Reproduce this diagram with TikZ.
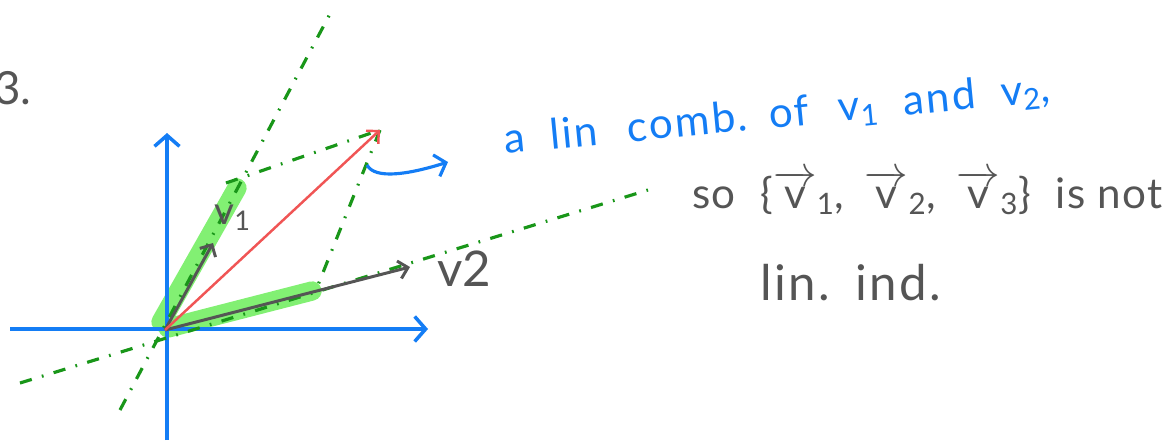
\documentclass[tikz,border=0pt]{standalone}
\usepackage{fontspec}
\setmainfont{Lato}
\usepackage{amsmath}
\usetikzlibrary{arrows.meta}
\definecolor{penblue}{RGB}{20,125,245}
\definecolor{pengray}{RGB}{85,85,85}
\definecolor{pengreen}{RGB}{25,150,25}
\definecolor{penred}{RGB}{240,85,85}
\definecolor{hlgreen}{RGB}{130,240,115}
\newcommand{\hv}[1]{$\overrightarrow{\text{v}}$\textsubscript{#1}}

\begin{document}
\begin{tikzpicture}[
    x=0.02cm, y=-0.02cm,
    axis/.style={draw=penblue, line width=2pt, -{Straight Barb[length=2.2mm, width=5mm]}},
    vec/.style={draw=pengray, line width=1.7pt, -{Straight Barb[length=1.8mm, width=3.6mm]}},
    res/.style={draw=penred, line width=1.4pt, -{Straight Barb[length=1.8mm, width=3.6mm]}},
    spanline/.style={draw=pengreen, line width=1.8pt, dash pattern=on 7pt off 6pt on 1pt off 6pt},
    hilite/.style={draw=hlgreen, line width=11pt, line cap=round},
    note/.style={anchor=base west, inner sep=0pt,
        font=\fontsize{24}{28}\selectfont\addfontfeature{LetterSpace=5}, text=pengray},
]
\useasboundingbox (0,0) rectangle (1175,443);

% Points
\coordinate (O) at (165,330);
\coordinate (v1tip) at (213,243);
\coordinate (v2tip) at (410,267);
\coordinate (v3tip) at (380,130);
\coordinate (p1) at (226,183);
\coordinate (p2) at (316,290);

% Highlights
\draw[hilite] (161,322) -- (237,188);
\draw[hilite] (168,328) -- (312,291);

% Axes
\draw[axis] (10,329) -- (428,329);
\draw[axis] (167,440) -- (167,133);

% Spans
\draw[spanline] (120,410) -- (331,12);
\draw[spanline] (20,383) -- (648,190);
\draw[spanline] (p1) -- (v3tip);
\draw[spanline] (v3tip) -- (p2);

% Vectors
\draw[vec] (O) -- (v1tip);
\draw[vec] (O) -- (v2tip);
\draw[res] (O) -- (v3tip);
\node[note, font=\fontsize{22}{26}\selectfont] (v1lbl) at (214,224) {v\textsubscript{1}};
\node[note, font=\fontsize{28}{32}\selectfont] (v2lbl) at (437,286) {v2};

% Remark
\coordinate (hook) at (367,165);
\coordinate (hookend) at (448,162);
\draw[penblue, line width=1.8pt, -{Straight Barb[length=2mm, width=4.5mm]}]
    (hook) .. controls (375,180) and (410,174) .. (hookend);
\node[note, text=penblue, rotate=5.5] (comb) at (505,154)
    {a\hspace{0.3em} lin\hspace{0.4em} comb.\hspace{0.1em} of\hspace{0.4em} v\textsubscript{1}\hspace{0.3em} and\hspace{0.3em} v\textsubscript{2},};
\node[note, font=\fontsize{24}{28}\selectfont\addfontfeature{LetterSpace=3}] (set) at (692,208)
    {so\hspace{0.3em} \{\hv{1},\hspace{0.2em} \hv{2},\hspace{0.2em} \hv{3}\}\hspace{0.3em} is not};
\node[note, font=\fontsize{28}{32}\selectfont\addfontfeature{LetterSpace=5}] (ind) at (760,300) {lin.\hspace{0.1em} ind.};
\node[note, font=\fontsize{26}{30}\selectfont] (prev) at (-6,104) {3.};

\end{tikzpicture}
\end{document}
